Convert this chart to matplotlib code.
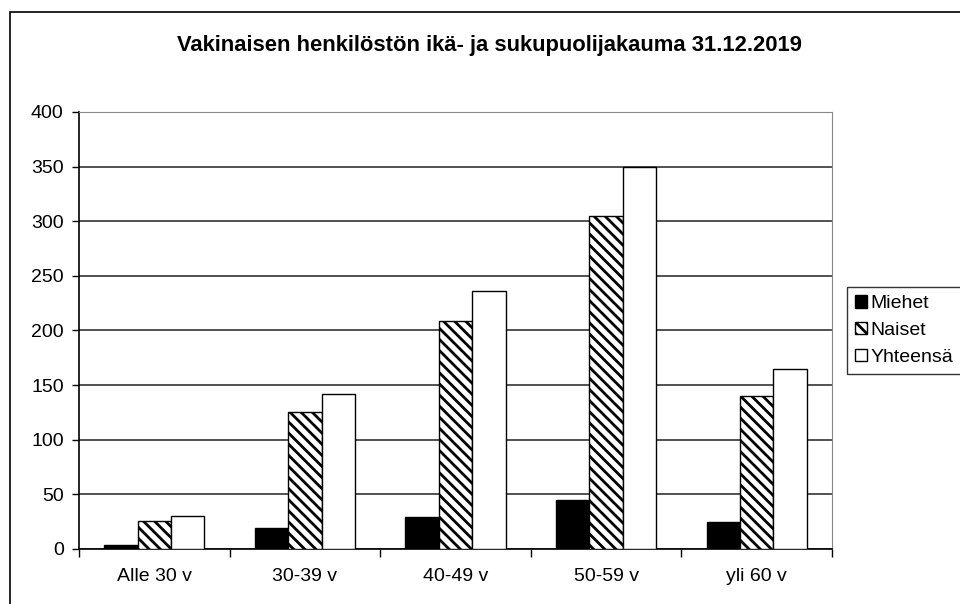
import numpy as np
import matplotlib
matplotlib.use("Agg")
import matplotlib.pyplot as plt
from matplotlib.patches import Rectangle

plt.rcParams["font.family"] = ["Liberation Sans", "DejaVu Sans"]
plt.rcParams["hatch.linewidth"] = 2.0

# ---------------------------------------------------------------------------
# data
# ---------------------------------------------------------------------------
categories = ["Alle 30 v", "30-39 v", "40-49 v", "50-59 v", "yli 60 v"]
miehet = [4, 19, 29, 45, 25]
naiset = [26, 125, 209, 305, 140]
yhteensa = [30, 142, 236, 350, 165]
yticks = [0, 50, 100, 150, 200, 250, 300, 350, 400]
title = "Vakinaisen henkilöstön ikä- ja sukupuolijakauma 31.12.2019"

# ---------------------------------------------------------------------------
# plot
# ---------------------------------------------------------------------------
fig = plt.figure(figsize=(9.6, 6.04), dpi=100)
ax = fig.add_axes([0.0823, 0.0911, 0.7844, 0.7235])

# outer chart frame (only left / top fall inside the image)
fig.add_artist(Rectangle((0.0104, -0.05), 1.2, 1.03,
                         transform=fig.transFigure, fill=False,
                         edgecolor="black", lw=1.2))

x = np.arange(len(categories))
w = 0.222
ax.bar(x - w, miehet, w, color="black", edgecolor="black", lw=1,
       label="Miehet", zorder=3)
ax.bar(x, naiset, w, color="white", edgecolor="black", lw=1,
       hatch="\\\\\\", label="Naiset", zorder=3)
ax.bar(x + w, yhteensa, w, color="white", edgecolor="black", lw=1,
       label="Yhteensä", zorder=3)

ax.set_xlim(-0.5, len(categories) - 0.5)
ax.set_ylim(0, 400)
ax.set_yticks(yticks)
ax.set_xticks(x)
ax.set_xticklabels(categories, fontsize=14)
ax.tick_params(axis="x", length=0, pad=14)
ax.set_xticks(np.arange(len(categories) + 1) - 0.5, minor=True)
ax.tick_params(axis="x", which="minor", length=6, width=1, direction="out")
ax.tick_params(axis="y", labelsize=14, length=5, width=1, direction="out",
               pad=6)

ax.grid(axis="y", color="#333333", lw=1.2, zorder=0)
for s in ["top", "right"]:
    ax.spines[s].set_color("#888888")
for s in ["left", "bottom"]:
    ax.spines[s].set_color("black")
    ax.spines[s].set_linewidth(1.2)

fig.text(0.51, 0.925, title, ha="center", va="center", fontsize=15.8,
         fontweight="bold")

leg = ax.legend(loc="center left", bbox_to_anchor=(1.02, 0.5), fontsize=14,
                frameon=True, fancybox=False, edgecolor="black",
                handlelength=0.6, handleheight=0.6, handletextpad=0.2,
                labelspacing=0.5, borderpad=0.4, borderaxespad=0)
leg.get_frame().set_linewidth(1)

plt.savefig("out.png", dpi=100)
plt.close()
